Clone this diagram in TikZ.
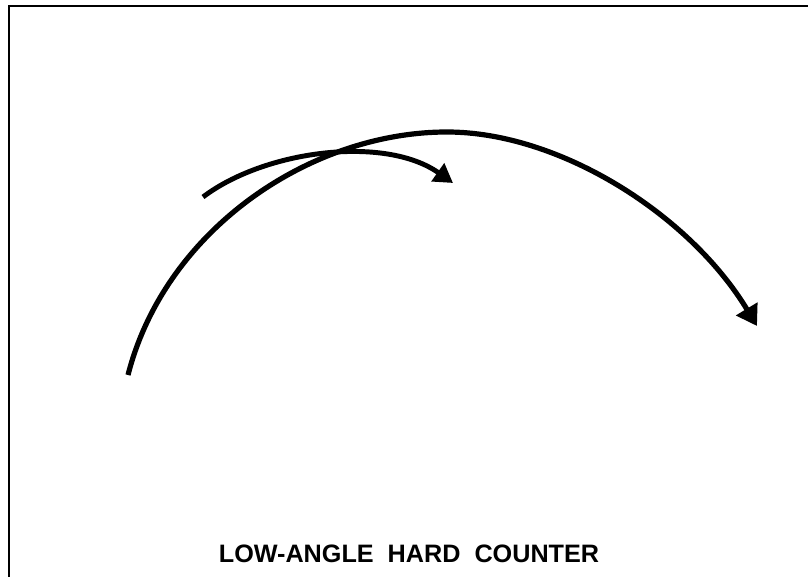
\documentclass[tikz,border=0pt]{standalone}
\usepackage{fontspec}
\setmainfont{Liberation Sans}
\usetikzlibrary{arrows.meta}
\begin{document}
\begin{tikzpicture}[x=0.75pt,y=-0.75pt,
  frameline/.style={line width=1.6pt},
  traj/.style={line width=3.9pt,line join=round,-{Triangle[length=15pt,width=18pt]}},
  trajsmall/.style={line width=3.7pt,line join=round,-{Triangle[length=14pt,width=16pt]}},
  caption/.style={font=\bfseries\fontsize{18.9}{22}\selectfont,inner sep=0pt,anchor=base}]
\useasboundingbox (0,0) rectangle (808,577);
\fill[white] (0,0) rectangle (808,577);
\coordinate (tl) at (9,6);
\coordinate (tr) at (810,6);
\coordinate (bl) at (9,580);
\draw[frameline] (bl) -- (tl) -- (tr);
% big arc
\coordinate (bs) at (128,375);
\coordinate (bt) at (447,132);
\coordinate (be) at (757,326);
\draw[traj] (bs) .. controls (165,230) and (310,132) .. (bt)
  .. controls (560,132) and (690,215) .. (be);
% small arc
\coordinate (ss) at (203,197);
\coordinate (se) at (453,183);
\draw[trajsmall] (ss) .. controls (265,150) and (385,135) .. (se);
\node[caption] (cap) at (409,563) {LOW-ANGLE\ \ HARD\ \ COUNTER};
\end{tikzpicture}
\end{document}
